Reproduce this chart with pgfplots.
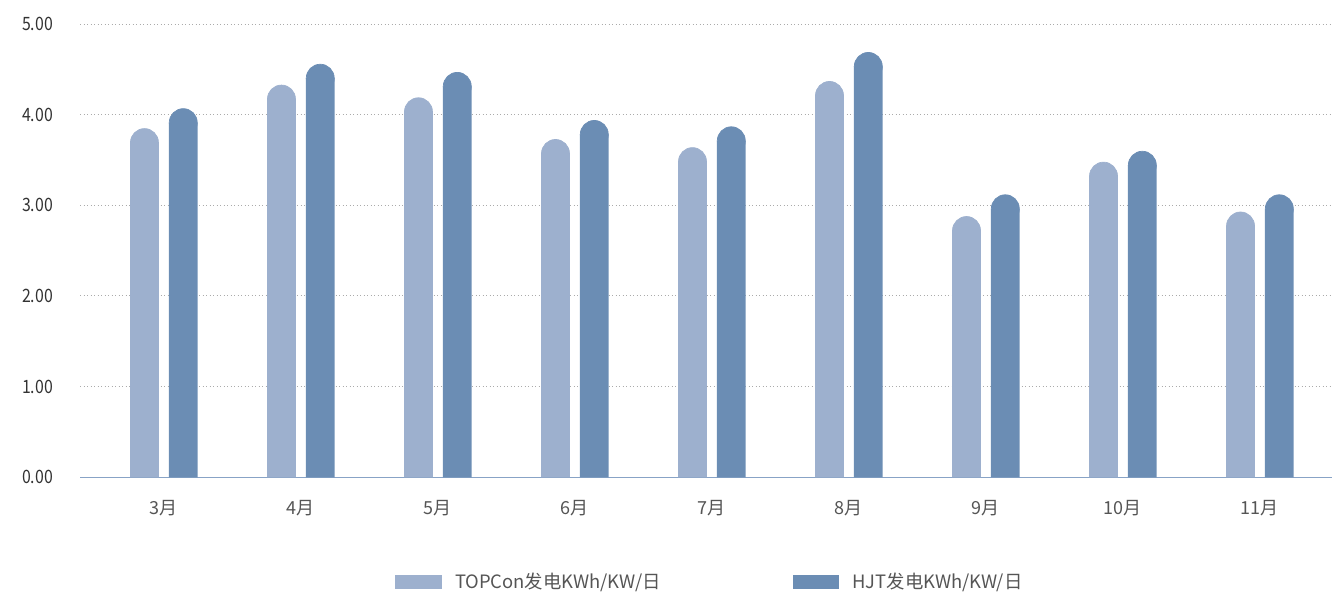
\documentclass[border=0pt]{standalone}
\usepackage{pgfplots}
\pgfplotsset{compat=1.18}
\usepackage{pgfplotstable}
\usepackage{fontspec}
\setmainfont{Noto Sans CJK SC}
\newfontfamily\tickfont{Noto Sans CJK SC}[FakeStretch=0.86]

\definecolor{topc}{HTML}{9DB0CE}
\definecolor{hjtc}{HTML}{6B8DB4}
\definecolor{axisc}{HTML}{88A3C6}
\definecolor{gridc}{HTML}{ABABAB}
\definecolor{ytxt}{HTML}{333333}
\definecolor{xtxt}{HTML}{555555}

% month index, TOPCon and HJT daily yield (kWh/kW per day)
\pgfplotstableread{
m top hjt
0 3.85 4.07
1 4.33 4.56
2 4.19 4.47
3 3.73 3.94
4 3.64 3.87
5 4.37 4.69
6 2.88 3.12
7 3.48 3.60
8 2.93 3.12
}\yielddata

% half bar width in data units (y) and bar offset in data units (x)
\def\capr{0.158}
\def\xoff{0.1416}

\begin{document}
\begin{tikzpicture}
\useasboundingbox (0,0) rectangle (666pt,297pt);
\begin{axis}[
  at={(40pt,58.35pt)}, anchor=south west,
  scale only axis, width=626pt, height=226.65pt,
  xmin=-0.612, xmax=8.526,
  ymin=0, ymax=5,
  ytick={0,1,2,3,4,5},
  xtick={0,...,8},
  xticklabels={3月,4月,5月,6月,7月,8月,9月,10月,11月},
  /pgf/number format/fixed,
  /pgf/number format/fixed zerofill,
  /pgf/number format/precision=2,
  /pgf/number format/assume math mode=true,
  yticklabel style={font=\tickfont\fontsize{9.2}{10}\selectfont, text=ytxt, xshift=-10pt},
  xticklabel style={font=\fontsize{9}{10}\selectfont, text=xtxt, yshift=-8pt},
  major tick length=0pt,
  axis lines*=left,
  y axis line style={draw=none},
  x axis line style={draw=axisc, line width=0.8pt},
  ymajorgrids,
  grid style={draw=gridc, line width=0.5pt, dash pattern=on 0.6pt off 1.15pt},
  clip=false,
  legend columns=2,
  legend style={at={(axis description cs:0.2516,0)}, anchor=west, yshift=-52.3pt,
    draw=none, fill=none, inner sep=0pt, font=\fontsize{9.2}{10}\selectfont, text=xtxt,
    /tikz/every odd column/.append style={column sep=4.5pt},
    /tikz/every even column/.append style={column sep=64pt}},
  lgd/.style={legend image code/.code={\fill[##1] (0pt,-3.6pt) rectangle (23.3pt,3.6pt);}},
]
% straight part of each bar
\addplot[ybar, bar width=14.35pt, bar shift=-9.7pt, fill=topc, draw=none, lgd]
  table[x=m, y expr=\thisrow{top}-\capr] {\yielddata};
\addlegendentry{TOPCon发电KWh/KW/日}
\addplot[ybar, bar width=14.35pt, bar shift=9.7pt, fill=hjtc, draw=none, lgd]
  table[x=m, y expr=\thisrow{hjt}-\capr] {\yielddata};
\addlegendentry{HJT发电KWh/KW/日}
% round caps on top of the bars
\addplot[forget plot, only marks, color=topc, mark=*, mark size=7.0pt,
  mark options={fill=topc, draw=topc, line width=0.35pt}]
  table[x expr=\thisrow{m}-\xoff, y expr=\thisrow{top}-\capr] {\yielddata};
\addplot[forget plot, only marks, color=hjtc, mark=*, mark size=7.0pt,
  mark options={fill=hjtc, draw=hjtc, line width=0.35pt}]
  table[x expr=\thisrow{m}+\xoff, y expr=\thisrow{hjt}-\capr] {\yielddata};
\end{axis}
\end{tikzpicture}
\end{document}
